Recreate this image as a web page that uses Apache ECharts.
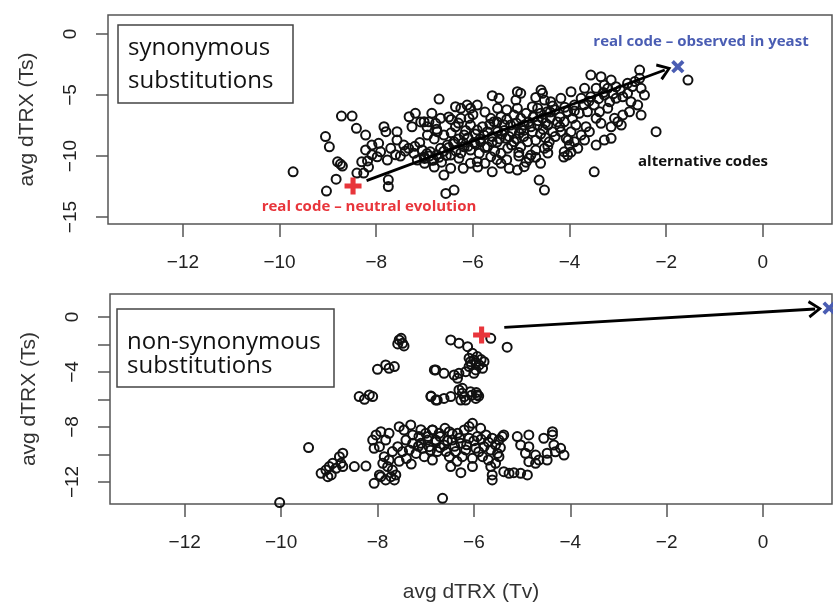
<!DOCTYPE html>
<html>
<head>
<meta charset="utf-8">
<script src="https://cdn.jsdelivr.net/npm/echarts@6/dist/echarts.min.js"></script>
<style>
html, body { margin: 0; padding: 0; background: #fff; }
#chart { width: 833px; height: 602px; }
</style>
</head>
<body>
<div id="chart"></div>
<script>
// synonymous substitutions: alternative codes [Tv, Ts]
const synPoints = [
    [-9.72,-11.29],[-9.05,-8.4],[-8.97,-9.24],[-9.03,-12.87],[-8.83,-11.9],[-8.8,-10.47],[-8.74,-10.66],[-8.7,-10.82],
    [-8.72,-6.72],[-8.5,-6.72],[-8.41,-7.73],[-8.22,-8.28],[-8.22,-9.5],[-8.4,-11.4],[-8.26,-11.4],[-8.3,-10.47],
    [-8.18,-10.4],[-8.09,-9.1],[-7.95,-8.96],[-7.91,-9.65],[-7.98,-10.06],[-8.09,-9.9],[-7.77,-10.33],[-7.75,-11.95],
    [-7.75,-12.5],[-7.84,-7.6],[-7.8,-8.0],[-7.57,-8.0],[-7.57,-8.69],[-7.43,-9.1],[-7.33,-9.37],[-7.22,-9.78],
    [-7.15,-10.33],[-7.32,-6.78],[-7.19,-6.5],[-7.26,-7.6],[-7.7,-9.37],[-8.16,-10.9],[-7.08,-7.2],
    [-6.7,-5.33],[-5.6,-5.05],[-5.46,-5.27],[-5.08,-4.73],[-5.01,-4.86],[-5.11,-5.41],[-5.08,-6.09],[-4.59,-4.59],
    [-4.56,-4.86],[-4.52,-5.41],[-4.77,-5.96],[-4.66,-6.09],[-4.39,-5.55],[-4.46,-6.37],
    [-7.01,-7.19],[-6.91,-7.19],[-6.77,-7.32],[-6.67,-6.91],[-6.36,-5.96],[-6.25,-6.09],[-6.12,-5.82],[-6.05,-6.09],
    [-5.91,-5.82],[-6.25,-6.91],[-6.08,-6.91],[-6.05,-7.46],[-6.36,-7.6],
    [-6.94,-8.28],[-6.74,-8.0],[-6.6,-8.28],[-6.53,-9.1],[-6.18,-8.28],[-5.91,-7.87],[-5.84,-8.83],[-5.7,-9.24],
    [-5.6,-8.83],[-5.63,-6.91],[-5.56,-7.19],[-5.42,-6.78],[-5.35,-7.46],[-5.49,-8.0],[-5.32,-8.55],[-5.22,-7.46],
    [-5.15,-6.64],[-5.01,-6.91],[-4.94,-7.46],[-5.04,-8.14],[-5.15,-8.83],[-5.01,-9.24],[-4.87,-8.83],[-4.77,-8.0],
    [-4.66,-7.46],[-4.56,-6.91],[-4.45,-7.46],[-4.35,-8.0],[-4.42,-8.83],[-4.52,-9.37],[-4.7,-9.51],[-4.8,-9.92],
    [-6.39,-8.83],[-6.18,-9.24],[-6.05,-9.51],[-5.87,-9.78],[-5.63,-10.05],[-5.42,-9.78],[-5.28,-9.37],[-6.67,-9.37],
    [-6.88,-9.65],[-7.01,-10.05],[-6.81,-10.33],[-6.46,-9.92],[-6.29,-10.19],[-5.77,-8.28],[-5.49,-6.09],
    [-6.6,-11.56],[-6.46,-11.0],[-6.56,-13.06],[-6.39,-12.79],[-6.05,-10.6],[-5.91,-10.46],[-5.6,-11.29],[-5.42,-10.6],
    [-5.25,-11.01],[-5.08,-11.15],[-4.94,-10.87],[-4.84,-10.19],[-4.63,-11.97],[-4.52,-12.79],
    [-7.0,-10.2],[-6.9,-10.0],[-6.85,-10.35],[-6.75,-9.9],[-6.95,-9.8],[-7.05,-9.5],[-6.7,-10.1],[-6.6,-9.6],
    [-6.5,-9.3],[-6.4,-9.0],[-6.3,-8.6],[-6.2,-8.9],[-6.1,-8.5],[-5.95,-8.2],[-5.8,-7.6],[-5.7,-8.0],[-5.65,-7.4],
    [-5.5,-7.2],[-5.4,-8.2],[-5.3,-7.0],[-5.2,-8.0],[-5.1,-7.3],[-5.0,-7.8],[-4.9,-6.5],[-4.85,-7.2],[-4.75,-6.8],
    [-4.6,-6.5],[-4.55,-7.8],[-4.5,-8.5],[-4.4,-6.9],[-4.3,-6.2],[-4.25,-7.2],
    [-6.95,-7.6],[-6.8,-8.6],[-6.45,-8.1],[-6.3,-7.3],[-6.15,-7.9],[-5.98,-8.9],[-5.75,-9.3],[-5.55,-9.6],
    [-5.45,-8.6],[-5.2,-9.1],[-5.05,-9.7],[-4.95,-8.4],[-4.7,-8.7],[-4.6,-8.2],[-4.45,-9.2],[-4.3,-8.4],
    [-4.2,-7.6],[-4.35,-5.9],[-4.7,-5.2],[-5.3,-6.2],[-5.75,-6.4],[-6.0,-6.6],[-6.5,-6.8],[-6.85,-6.5],
    [-5.9,-10.9],[-5.3,-10.3],[-6.2,-11.0],[-5.75,-10.6],[-4.9,-10.5],[-4.6,-10.6],
    [-6.65,-10.5],[-6.55,-9.95],[-6.35,-9.6],[-6.25,-9.75],[-6.1,-9.2],[-5.95,-9.0],[-5.85,-8.6],[-5.6,-8.4],
    [-5.5,-8.85],[-5.35,-7.9],[-5.25,-8.4],[-5.1,-8.6],[-4.95,-7.9],[-4.8,-7.6],[-4.65,-7.1],[-4.5,-7.3],
    [-4.4,-6.4],[-4.2,-6.8],[-4.1,-6.0],[-3.9,-6.3],[-3.7,-5.8],[-3.6,-5.5],[-3.4,-5.3],[-3.3,-4.8],
    [-3.1,-4.9],[-2.95,-4.6],[-2.7,-4.3],[-2.65,-3.9],[-6.75,-7.8],[-6.45,-7.0],[-7.1,-8.9],[-7.2,-9.2],
    [-7.4,-9.6],[-7.5,-10.0],[-7.6,-9.9],[-7.0,-10.6],[-6.8,-10.9],[-5.5,-10.3],[-5.05,-10.0],[-4.7,-10.1],
    [-2.55,-2.95],[-2.55,-3.63],[-1.55,-3.77],[-2.21,-8.0],[-3.45,-9.1],[-3.28,-8.69],[-3.14,-8.55],[-3.49,-11.29],
    [-3.35,-3.5],[-3.14,-3.77],[-3.04,-4.32],[-3.21,-4.45],[-3.28,-5.0],[-3.45,-4.45],[-3.56,-5.14],[-3.49,-5.82],
    [-3.63,-6.37],[-3.38,-6.37],[-3.21,-6.09],[-3.04,-5.27],[-2.9,-5.14],[-2.8,-4.86],[-2.73,-5.55],[-2.76,-6.37],
    [-2.59,-5.82],[-2.52,-6.64],[-2.45,-5.0],[-2.9,-6.64],[-3.0,-7.19],[-3.14,-7.6],[-3.07,-6.91],[-2.93,-7.46],
    [-3.56,-3.36],[-3.76,-5.27],[-3.9,-5.82],[-4.04,-6.37],[-4.11,-7.19],[-3.94,-6.91],[-3.8,-6.5],[-3.87,-7.46],
    [-3.97,-8.0],[-4.07,-8.55],[-4.0,-9.1],[-4.11,-9.65],[-4.04,-9.92],[-3.9,-8.83],[-3.76,-8.28],[-3.66,-7.6],
    [-3.28,-4.18],[-3.17,-5.55],[-3.35,-7.32],[-3.59,-8.0],[-3.69,-8.69],[-3.83,-9.37],[-4.18,-8.0],[-4.18,-5.27],
    [-3.97,-4.73],[-3.69,-4.45],[-2.8,-4.04],[-2.52,-4.45],[-3.45,-6.91],
    [-4.03,-8.69],[-3.97,-9.67],[-4.12,-10.08],[-4.45,-9.75]
];
const synReal = [[-8.48, -12.46]];
const synYeast = [[-1.76, -2.68]];
const synArrow = [[-8.2, -12.02], [-2.03, -2.95]];

// non-synonymous substitutions: alternative codes [Tv, Ts]
const nonPoints = [
    [-7.55,-1.67],[-7.48,-1.92],[-7.58,-1.96],[-7.45,-2.11],[-7.51,-1.55],[-8.0,-3.81],[-7.83,-3.49],[-7.76,-3.73],
    [-7.65,-3.61],[-8.38,-5.79],[-8.27,-5.99],[-8.17,-5.67],[-8.1,-5.79],[-6.82,-3.85],[-6.89,-5.75],[-6.79,-6.04],
    [-9.43,-9.5],[-9.17,-11.37],[-9.07,-11.13],[-9.0,-10.88],[-8.96,-11.49],[-8.93,-10.64],[-8.86,-11.0],[-8.79,-10.16],
    [-8.76,-10.64],[-8.72,-9.91],[-8.72,-10.88],[-9.03,-11.61],[-8.48,-10.88],[-8.24,-10.84],[-8.07,-12.1],[-7.93,-11.61],
    [-8.1,-8.95],[-8.03,-8.58],[-7.93,-8.34],[-8.07,-9.55],[-7.96,-9.43],[-7.83,-8.95],[-7.76,-8.46],[-7.55,-7.98],
    [-7.31,-7.85],[-7.45,-8.22],[-7.86,-10.16],[-7.76,-10.4],[-7.89,-10.64],[-7.79,-10.88],[-7.69,-11.13],[-7.72,-11.61],
    [-7.62,-11.49],[-7.83,-11.85],[-7.65,-11.85],[-7.96,-11.49],
    [-7.41,-8.95],[-7.27,-9.19],[-7.14,-8.7],[-7.0,-8.46],[-6.86,-8.22],[-7.34,-9.67],[-7.2,-9.92],[-7.07,-9.55],
    [-6.93,-9.43],[-6.79,-8.95],[-7.03,-10.16],[-6.86,-10.4],[-7.27,-8.58],[-7.1,-9.19],[-6.96,-8.95],[-6.76,-9.79],
    [-7.48,-9.79],[-7.58,-9.43],[-7.69,-9.79],
    [-6.48,-1.67],[-6.31,-1.91],[-6.13,-2.16],[-5.65,-1.55],[-5.31,-2.2],[-6.03,-2.64],[-5.93,-2.88],[-6.07,-3.25],
    [-5.79,-3.25],[-5.89,-3.49],[-6.1,-3.61],[-5.96,-3.85],[-5.82,-3.73],[-6.0,-3.13],
    [-5.95,-3.35],[-5.85,-3.1],[-6.05,-3.45],[-6.1,-3.0],
    [-6.79,-3.85],[-6.62,-4.1],[-6.41,-4.22],[-6.31,-4.1],[-6.17,-3.98],[-6.34,-4.46],[-6.0,-4.1],
    [-6.89,-5.79],[-6.76,-6.04],[-6.62,-5.92],[-6.48,-5.79],[-6.31,-5.31],[-6.24,-5.55],[-6.17,-6.04],[-6.07,-5.43],
    [-5.96,-5.92],[-5.93,-5.67],[-6.27,-6.04],[-6.24,-5.19],[-5.9,-5.75],[-6.05,-5.7],[-6.2,-5.8],[-5.95,-5.5],
    [-6.03,-7.73],[-5.86,-8.1],[-5.41,-8.7],[-5.62,-8.82],[-5.38,-8.58],[-5.48,-8.95],[-6.86,-8.22],[-6.72,-8.46],
    [-6.51,-8.34],[-6.34,-8.46],[-6.2,-8.22],[-6.79,-9.07],[-6.62,-9.31],[-6.45,-8.95],[-6.27,-9.19],[-6.1,-8.82],
    [-5.93,-8.7],[-5.75,-8.58],[-6.58,-9.79],[-6.38,-9.79],[-6.17,-9.67],[-5.96,-9.55],[-5.79,-9.43],[-5.65,-9.67],
    [-5.51,-9.92],[-6.51,-10.16],[-6.24,-10.16],[-6.03,-10.28],[-5.82,-10.16],
    [-7.1,-8.2],[-6.95,-8.7],[-6.7,-8.7],[-6.55,-9.0],[-6.4,-9.4],[-6.3,-8.8],[-6.15,-9.3],[-6.0,-9.0],
    [-5.85,-8.9],[-5.7,-9.1],[-5.55,-9.3],[-5.45,-9.5],[-6.6,-8.1],[-6.45,-8.5],[-6.9,-9.7],[-7.15,-9.4],
    [-6.7,-9.5],[-5.9,-9.8],[-6.35,-10.5],[-5.7,-10.4],[-7.4,-10.3],[-7.3,-10.7],[-7.55,-10.5],
    [-6.48,-10.88],[-6.27,-11.32],[-6.03,-10.88],[-5.65,-10.88],[-5.62,-11.49],[-5.62,-11.85],[-5.55,-10.64],[-5.48,-10.16],
    [-5.38,-11.25],[-5.27,-11.37],[-5.17,-11.32],[-5.03,-11.37],[-4.89,-11.49],
    [-5.1,-8.7],[-4.86,-8.58],[-5.03,-9.31],[-4.86,-9.43],[-4.93,-9.91],[-4.72,-10.04],[-4.72,-10.64],[-4.86,-10.52],
    [-4.55,-8.82],[-4.37,-8.58],[-4.34,-9.31],[-4.2,-9.55],[-4.13,-10.04],[-4.48,-10.4],[-4.31,-9.8],[-4.48,-9.91],
    [-4.65,-10.4],[-4.37,-8.34],[-6.1,-7.97],
    [-6.65,-13.19],[-10.03,-13.5]
];
const nonReal = [[-5.84, -1.31]];
const nonYeast = [[1.37, 0.65]];
const nonArrow = [[-5.37, -0.75], [1.08, 0.58]];

const xTicks = [-12, -10, -8, -6, -4, -2, 0];
const synYTicks = [0, -5, -10, -15];
const nonYTicks = [0, -2, -4, -6, -8, -10, -12];
const nonYLabels = [0, -4, -8, -12];

const plusPath = 'path://M7,0 H13 V7 H20 V13 H13 V20 H7 V13 H0 V7 H7 Z';
const thinPlus = 'path://M7.5,0 H12.5 V7.5 H20 V12.5 H12.5 V20 H7.5 V12.5 H0 V7.5 H7.5 Z';
const headPath = 'path://M0,16 L10,0 L20,16 L17,18 L10,6 L3,18 Z';

const minus = v => String(v).replace('-', '\u2212');
const tickFont = { fontFamily: 'Liberation Sans', fontSize: 19, color: '#222' };

function xAxisFor(idx, name) {
    return {
        gridIndex: idx, type: 'value', min: -13.55, max: 1.43,
        name: name, nameLocation: 'middle', nameGap: 78,
        nameTextStyle: { fontFamily: 'Liberation Sans', fontSize: 21, color: '#333' },
        axisLine: { show: false, onZero: false },
        splitLine: { show: false },
        axisTick: { customValues: xTicks, length: 13, lineStyle: { color: '#555', width: 1.5 } },
        axisLabel: Object.assign({ customValues: xTicks, margin: 29, formatter: minus }, tickFont)
    };
}

function yAxisFor(idx, min, max, ticks, labels) {
    return {
        gridIndex: idx, type: 'value', min: min, max: max,
        name: 'avg dTRX (Ts)', nameLocation: 'middle', nameGap: 70,
        nameTextStyle: { fontFamily: 'Liberation Sans', fontSize: 21, color: '#333' },
        axisLine: { show: false, onZero: false },
        splitLine: { show: false },
        axisTick: { customValues: ticks, length: 12, lineStyle: { color: '#555', width: 1.5 } },
        axisLabel: Object.assign({ customValues: labels, rotate: 90, margin: 28, formatter: minus }, tickFont)
    };
}

function circles(idx, data, arrow) {
    return {
        type: 'scatter', xAxisIndex: idx, yAxisIndex: idx, data: data,
        symbol: 'circle', symbolSize: 9, clip: false,
        itemStyle: { color: 'rgba(0,0,0,0)', borderColor: '#111', borderWidth: 2, opacity: 1 },
        markLine: {
            silent: true, animation: false,
            symbol: ['none', headPath], symbolSize: [18, 14],
            label: { show: false },
            lineStyle: { color: '#000', width: 2.8, type: 'solid', opacity: 1 },
            data: [[{ coord: arrow[0] }, { coord: arrow[1] }]]
        }
    };
}

function marker(idx, data, path, size, rotate, color) {
    return {
        type: 'scatter', xAxisIndex: idx, yAxisIndex: idx, data: data, z: 5, clip: false,
        symbol: path, symbolSize: size, symbolRotate: rotate,
        itemStyle: { color: color, opacity: 1 }
    };
}

const boxFont = '24px "Open Sans"';
const noteFont = 'bold 15px "Open Sans"';

var myChart = echarts.init(document.getElementById('chart'));
myChart.setOption({
    animation: false,
    grid: [
        { left: 108, top: 15, right: 1, height: 209, outerBoundsMode: 'none',
          show: true, borderColor: '#555', borderWidth: 1.5 },
        { left: 110, top: 294, right: 1, height: 210, outerBoundsMode: 'none',
          show: true, borderColor: '#555', borderWidth: 1.5 }
    ],
    xAxis: [xAxisFor(0, ''), xAxisFor(1, 'avg dTRX (Tv)')],
    yAxis: [
        yAxisFor(0, -15.57, 1.56, synYTicks, synYTicks),
        yAxisFor(1, -13.6, 1.67, nonYTicks, nonYLabels)
    ],
    series: [
        circles(0, synPoints, synArrow),
        marker(0, synReal, plusPath, 17, 0, '#e8353b'),
        marker(0, synYeast, thinPlus, 15, 45, '#4a5db3'),
        circles(1, nonPoints, nonArrow),
        marker(1, nonReal, plusPath, 17, 0, '#e8353b'),
        marker(1, nonYeast, thinPlus, 15, 45, '#4a5db3')
    ],
    graphic: [
        { type: 'rect', shape: { x: 118, y: 25, width: 175, height: 78 },
          style: { fill: '#fff', stroke: '#444', lineWidth: 1.5 }, z: 10 },
        { type: 'text', x: 128, y: 32, z: 11,
          style: { text: 'synonymous\nsubstitutions', font: boxFont, lineHeight: 33, fill: '#111' } },
        { type: 'rect', shape: { x: 117, y: 309, width: 217, height: 78 },
          style: { fill: '#fff', stroke: '#444', lineWidth: 1.5 }, z: 10 },
        { type: 'text', x: 127, y: 330, z: 11,
          style: { text: 'non-synonymous\nsubstitutions', font: boxFont, lineHeight: 24, fill: '#111' } },
        { type: 'text', x: 701, y: 42, z: 11,
          style: { text: 'real code \u2013 observed in yeast', font: noteFont, fill: '#4a5db3', align: 'center', verticalAlign: 'middle' } },
        { type: 'text', x: 369, y: 207, z: 11,
          style: { text: 'real code \u2013 neutral evolution', font: noteFont, fill: '#e8353b', align: 'center', verticalAlign: 'middle' } },
        { type: 'text', x: 703, y: 162, z: 11,
          style: { text: 'alternative codes', font: noteFont, fill: '#111', align: 'center', verticalAlign: 'middle' } }
    ]
});
</script>
</body>
</html>
